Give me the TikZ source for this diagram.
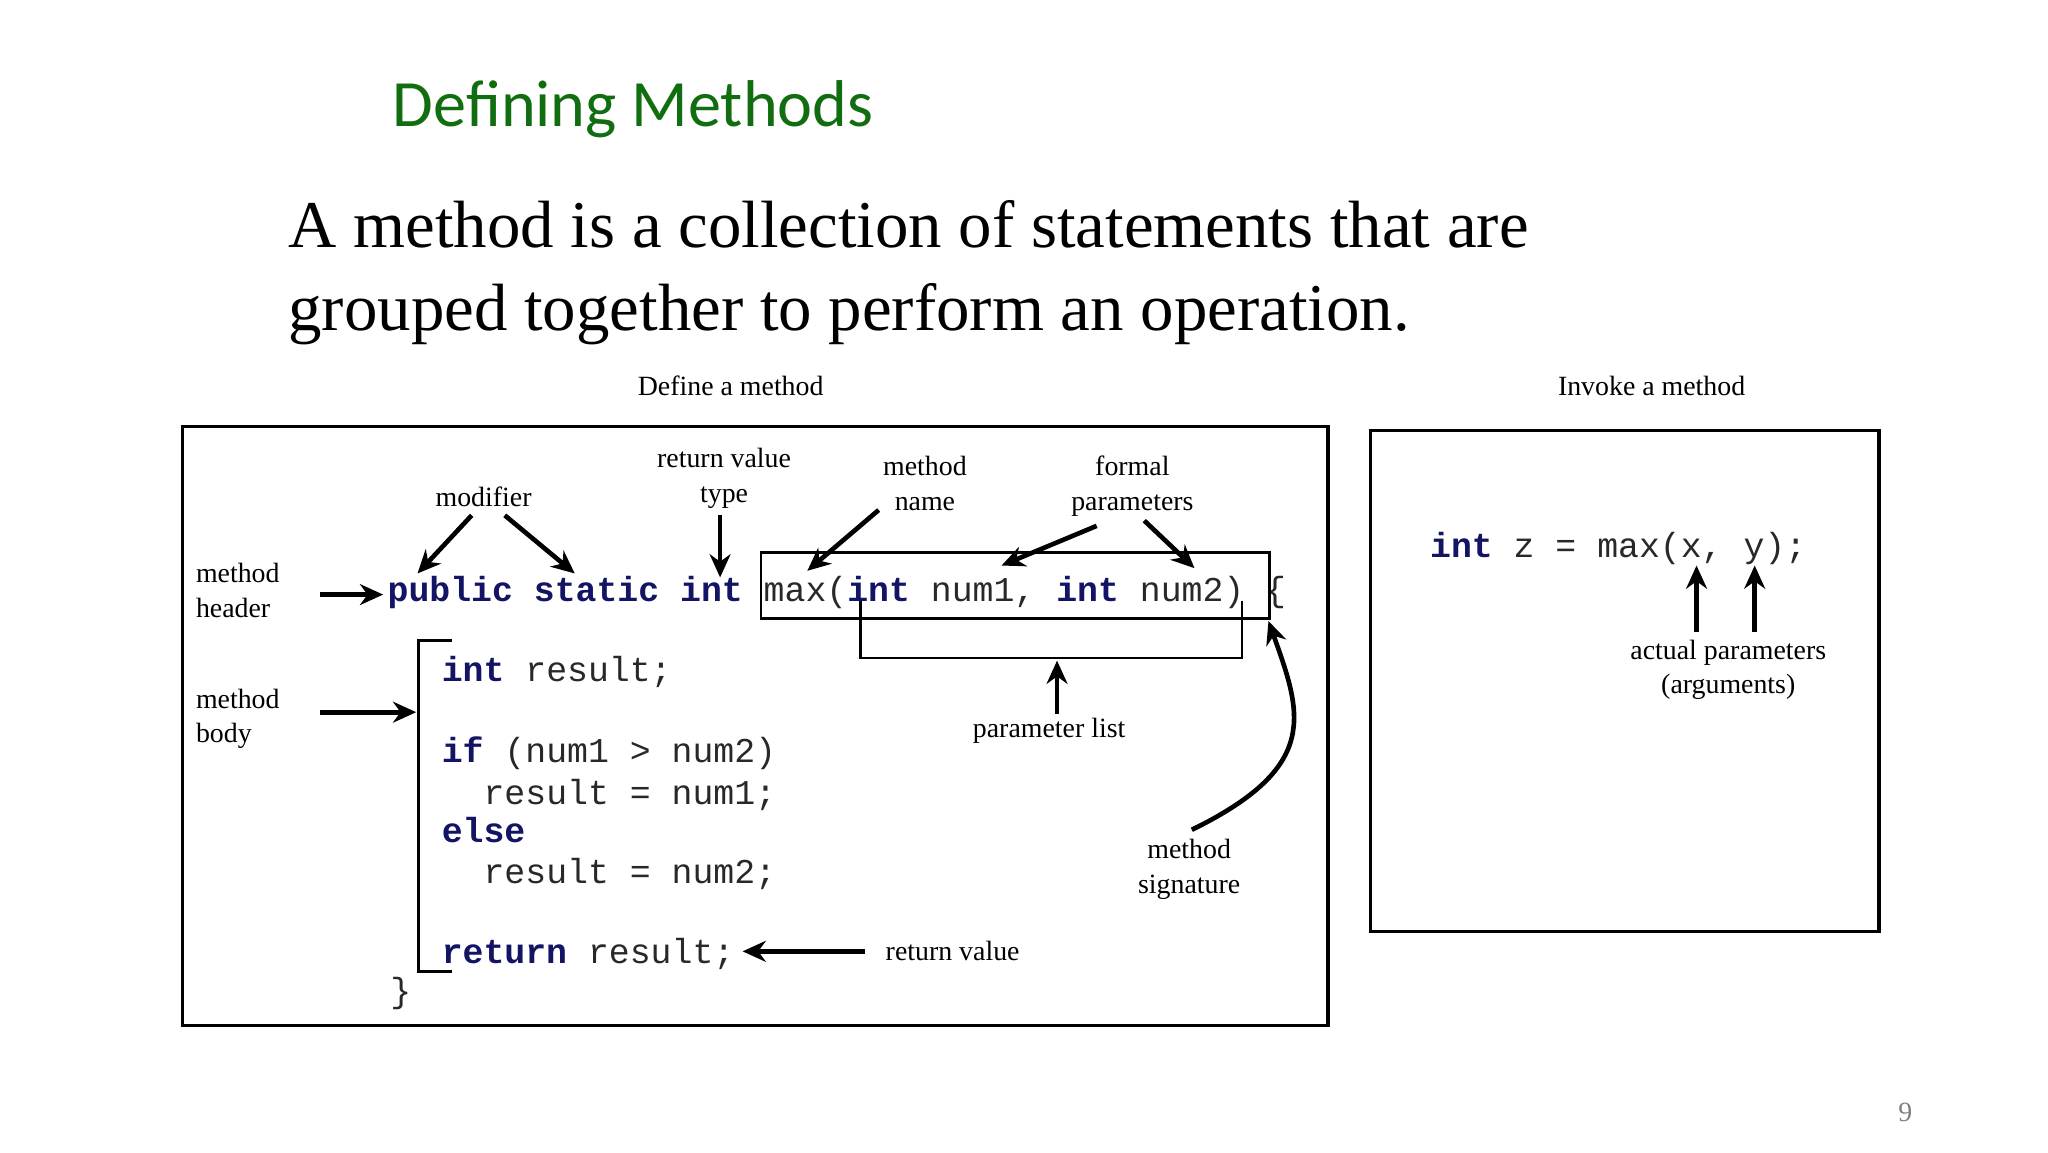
\documentclass[tikz,border=0pt]{standalone}
\usepackage{fontspec}
\setmainfont{Liberation Serif}
\setmonofont{Liberation Mono}
\newfontfamily\titlefont{Carlito}
\usetikzlibrary{arrows.meta}
\definecolor{titlegreen}{RGB}{16,110,16}
\definecolor{kwblue}{RGB}{20,20,100}
\definecolor{codegray}{RGB}{40,40,40}
\newcommand{\kw}[1]{\textbf{\color{kwblue}#1}}
\tikzset{
  lbl/.style={font=\fontsize{12}{15}\selectfont, align=center, inner sep=0pt},
  code/.style={font=\fontsize{15}{18}\ttfamily, text=codegray, anchor=base west, inner sep=0pt},
  arr/.style={-{Stealth[length=10pt,width=9pt]}, line width=2pt},
  frame/.style={line width=1.4pt}
}
\begin{document}
\begin{tikzpicture}[x=0.02cm,y=-0.02cm]
  \useasboundingbox (0,0) rectangle (1550,872);

  % heading and text
  \node (title) [anchor=west, inner sep=0pt, font=\titlefont\fontsize{28.5}{32}\selectfont, text=titlegreen] at (297,83) {Defining Methods};
  \node (intro1) [anchor=base west, inner sep=0pt, font=\fontsize{28.8}{34}\selectfont] at (218,187) {A method is a collection of statements that are};
  \node (intro2) [anchor=base west, inner sep=0pt, font=\fontsize{28.8}{34}\selectfont] at (218,250) {grouped together to perform an operation.};
  \node (deftitle) [lbl] at (553,292) {Define a method};
  \node (invtitle) [lbl] at (1250,292) {Invoke a method};

  % frames
  \draw[frame] (138,323) rectangle (1005,776);
  \draw[frame] (1037,326) rectangle (1422,705);

  % method code
  \node (header) [code] at (293,455) {\kw{public} \kw{static} \kw{int} max(\kw{int} num1, \kw{int} num2) \{};
  \draw[line width=1.2pt] (576,418) rectangle (961,468);
  \draw[line width=1.2pt] (651,455) -- (651,498) -- (940,498) -- (940,455);
  \node (l1) [code] at (334,516) {\kw{int} result;};
  \node (l2) [code] at (334,577) {\kw{if} (num1 > num2)};
  \node (l3) [code] at (334,609) {\ \ result = num1;};
  \node (l4) [code] at (334,638) {\kw{else}};
  \node (l5) [code] at (334,669) {\ \ result = num2;};
  \node (l6) [code] at (334,729) {\kw{return} result;};
  \node (close) [code] at (295,759) {\}};
  \draw[line width=1.2pt] (342,485) -- (317,485) -- (317,735) -- (342,735);

  % labels
  \node (mheader) [lbl, align=left, anchor=west] at (148,447) {method\\header};
  \node (mbody) [lbl, align=left, anchor=west] at (148,544) {method\\body};
  \node (modifier) [lbl] at (366,376) {modifier};
  \node (rettype) [lbl] at (548,362) {return value\\type};
  \node (mname) [lbl] at (700,366) {method\\name};
  \node (formal) [lbl] at (857,368) {formal\\parameters};
  \node (plist) [lbl] at (794,553) {parameter list};
  \node (retval) [lbl, anchor=west] at (670,720) {return value};
  \node (msig) [lbl] at (900,658) {method\\signature};

  \coordinate (hd) at (290,450);
  \coordinate (bd) at (315,539);
  \draw[arr] (242,450) -- (hd);
  \draw[arr] (242,539) -- (bd);
  \draw[arr] (357,390) -- (316,434);
  \draw[arr] (382,390) -- (435,434);
  \draw[arr] (545,390) -- (545,437);
  \draw[arr] (665,386) -- (611,432);
  \draw[arr] (830,398) -- (758,428);
  \draw[arr] (866,394) -- (904,430);
  \draw[arr] (800,540) -- (800,500);
  \draw[arr] (655,720) -- (562,720);
  \draw[arr] (902,628) .. controls (1000,580) and (985,540) .. (960,470);

  % invoke
  \node (call) [code] at (1082,422) {\kw{int} z = max(x, y);};
  \node (actual) [lbl] at (1308,507) {actual parameters\\(arguments)};
  \draw[arr] (1284,478) -- (1284,428);
  \draw[arr] (1328,478) -- (1328,428);

  \node (page) [lbl, text=gray] at (1442,842) {9};
\end{tikzpicture}
\end{document}
